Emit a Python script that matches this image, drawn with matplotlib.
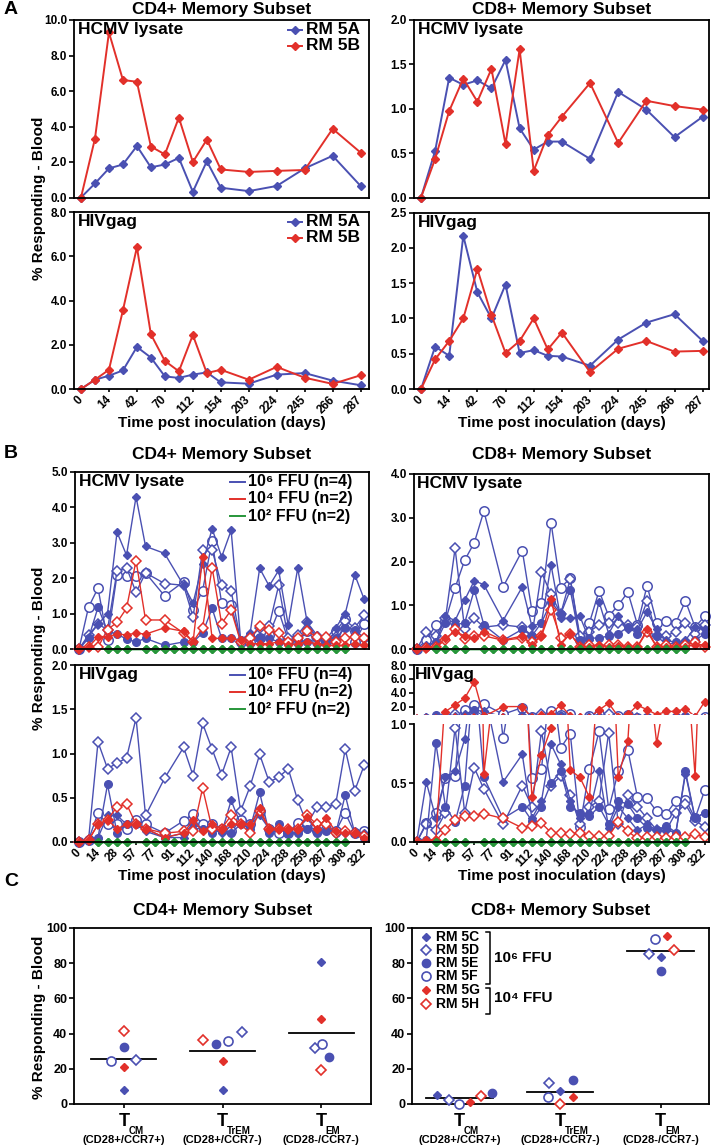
import numpy as np
import matplotlib
matplotlib.use('Agg')
import matplotlib.pyplot as plt
from matplotlib.lines import Line2D

plt.rcParams['font.family'] = ['Liberation Sans', 'DejaVu Sans']
plt.rcParams['font.weight'] = 'bold'
plt.rcParams['mathtext.fontset'] = 'custom'
plt.rcParams['mathtext.rm'] = 'Liberation Sans:bold'
plt.rcParams['mathtext.bf'] = 'Liberation Sans:bold'
plt.rcParams['mathtext.it'] = 'Liberation Sans:bold'
plt.rcParams['axes.linewidth'] = 1.3

nan = np.nan

# ---------------- Panel A data ----------------
a_days = ['0', '7', '14', '28', '42', '56', '70', '91', '112', '133', '154', '175', '203', '210',
          '224', '231', '245', '252', '266', '273', '287']
a_cd4_hcmv_5A = [0, 0.79, 1.64, 1.86, 2.9, 1.7, 1.86, 2.23, 0.32, 2.04, 0.55, nan, 0.36, nan, 0.65, nan, 1.64, nan, 2.35, nan, 0.65]
a_cd4_hcmv_5B = [0, 3.32, 9.3, 6.62, 6.52, 2.87, 2.43, 4.5, 2.0, 3.26, 1.58, nan, 1.44, nan, 1.5, nan, 1.55, nan, 3.87, nan, 2.53]
a_cd8_hcmv_5A = [0, 0.525, 1.35, 1.27, 1.32, 1.23, 1.55, 0.78, 0.54, 0.63, 0.63, nan, 0.435, nan, 1.19, nan, 0.99, nan, 0.68, nan, 0.91]
a_cd8_hcmv_5B = [0, 0.435, 0.975, 1.34, 1.08, 1.45, 0.60, 1.67, 0.30, 0.705, 0.91, nan, 1.29, nan, 0.615, nan, 1.09, nan, 1.03, nan, 0.99]
a_cd4_hiv_5A = [0, 0.42, 0.6, 0.84, 1.9, 1.42, 0.57, 0.5, 0.65, 0.75, 0.3, nan, 0.24, nan, 0.65, nan, 0.72, nan, 0.38, nan, 0.17]
a_cd4_hiv_5B = [0, 0.42, 0.87, 3.56, 6.41, 2.47, 1.27, 0.8, 2.44, 0.72, 0.87, nan, 0.42, nan, 1.0, nan, 0.51, nan, 0.23, nan, 0.62]
a_cd8_hiv_5A = [0, 0.6, 0.47, 2.17, 1.37, 1.0, 1.48, 0.51, 0.55, 0.47, 0.46, nan, 0.33, nan, 0.7, nan, 0.94, nan, 1.06, nan, 0.68]
a_cd8_hiv_5B = [0, 0.42, 0.68, 1.0, 1.7, 1.05, 0.51, 0.68, 1.0, 0.56, 0.8, nan, 0.24, nan, 0.57, nan, 0.68, nan, 0.53, nan, 0.54]

# ---------------- Panel B data ----------------
b_days = ['0', '7', '14', '21', '28', '42', '57', '70', '77', '84', '91', '98', '112', '126', '140', '154',
          '168', '189', '210', '217', '224', '231', '238', '245', '259', '273', '287', '294', '308', '315', '322']

b_cd4_hcmv_5C = [0, 0.35, 0.7, 1.0, 3.3, 2.65, 4.3, 2.9, nan, 2.7, nan, 1.8, 1.3, 2.4, 3.4, 2.6, 3.35, 0.25, 0.45, 2.28, 1.78, 2.22, 0.68, 2.28, 0.75, 0.4, 0.3, 0.6, 1.0, 2.1, 1.4]
b_cd4_hcmv_5D = [0, 0.4, 0.7, 0.55, 2.2, 2.3, 1.6, 2.15, nan, 1.85, nan, 1.8, 0.9, 2.8, 2.8, 1.8, 1.65, 0.2, 0.3, 0.6, 0.65, 1.8, 0.3, 0.4, 0.75, 0.3, 0.25, 0.35, 0.8, 0.6, 0.95]
b_cd4_hcmv_5E = [0, 0.3, 1.18, 0.5, 0.42, 0.28, 0.2, 0.3, nan, 0.1, nan, 0.2, 0.2, 0.45, 1.15, 0.3, 0.3, 0.25, 0.4, 0.3, 0.3, 0.2, 0.2, 0.25, 0.2, 0.3, 0.2, 0.3, 0.6, 0.55, 0.3]
b_cd4_hcmv_5F = [0, 1.18, 1.72, 0.25, 2.1, 2.05, 2.05, 2.15, nan, 1.5, nan, 1.9, 1.1, 1.65, 3.05, 1.3, 1.25, 0.2, 0.2, 0.3, 0.4, 1.08, 0.25, 0.2, 0.5, 0.2, 0.2, 0.5, 0.85, 0.2, 0.7]
b_cd4_hcmv_5G = [0, 0.05, 0.35, 0.35, 0.42, 0.4, 0.45, 0.42, nan, 0.6, nan, 0.5, 0.2, 2.6, 0.3, 0.3, 0.3, 0.25, 0.15, 0.15, 0.15, 0.2, 0.1, 0.15, 0.2, 0.15, 0.1, 0.1, 0.1, 0.15, 0.1]
b_cd4_hcmv_5H = [0, 0.05, 0.05, 0.55, 0.75, 1.15, 2.5, 0.82, nan, 0.82, nan, 0.45, 0.2, 0.6, 2.3, 0.72, 1.1, 0.2, 0.3, 0.65, 0.55, 0.45, 0.2, 0.3, 0.5, 0.35, 0.35, 0.2, 0.3, 0.35, 0.3]
b_cd4_hcmv_g1 = [nan, nan, nan, 0, 0, 0, nan, 0, 0, 0, 0, 0, 0, 0, 0, 0, 0, 0, 0, 0, 0, 0, 0, 0, 0, 0, 0, 0, 0, nan, nan]
b_cd4_hcmv_g2 = [nan, nan, nan, 0, 0, 0, nan, 0, 0, 0, 0, 0, 0, 0, 0, 0, 0, 0, 0, 0, 0, 0, 0, 0, 0, 0, 0, 0, 0, nan, nan]

b_cd4_hiv_5C = [0, 0.02, 0.05, 0.3, 0.3, 0.2, 0.2, 0.12, nan, 0.05, nan, 0.05, 0.15, 0.15, 0.15, 0.1, 0.47, 0.2, 0.2, 0.3, 0.15, 0.15, 0.12, 0.1, 0.15, 0.12, 0.15, 0.1, 0.1, 0.12, 0.1]
b_cd4_hiv_5D = [0, 0.02, 1.13, 0.83, 0.89, 0.95, 1.4, 0.3, nan, 0.72, nan, 1.07, 0.75, 1.34, 1.05, 0.76, 1.07, 0.35, 0.63, 0.99, 0.68, 0.73, 0.83, 0.47, 0.2, 0.39, 0.39, 0.43, 1.05, 0.58, 0.87]
b_cd4_hiv_5E = [0, 0.02, 0.05, 0.65, 0.1, 0.2, 0.2, 0.15, nan, 0.05, nan, 0.1, 0.2, 0.15, 0.1, 0.15, 0.1, 0.2, 0.15, 0.56, 0.1, 0.2, 0.1, 0.1, 0.15, 0.1, 0.12, 0.1, 0.53, 0.1, 0.05]
b_cd4_hiv_5F = [0, 0.02, 0.33, 0.2, 0.2, 0.15, 0.25, 0.2, nan, 0.1, nan, 0.24, 0.32, 0.2, 0.2, 0.15, 0.12, 0.25, 0.2, 0.35, 0.15, 0.1, 0.1, 0.22, 0.2, 0.12, 0.15, 0.12, 0.33, 0.1, 0.12]
b_cd4_hiv_5G = [0, 0.02, 0.2, 0.25, 0.15, 0.2, 0.2, 0.15, nan, 0.05, nan, 0.1, 0.25, 0.12, 0.2, 0.15, 0.2, 0.2, 0.2, 0.38, 0.15, 0.15, 0.15, 0.15, 0.28, 0.15, 0.27, 0.12, 0.1, 0.1, 0.05]
b_cd4_hiv_5H = [0, 0.02, 0.2, 0.25, 0.4, 0.43, 0.2, 0.15, nan, 0.1, nan, 0.12, 0.12, 0.61, 0.15, 0.15, 0.3, 0.2, 0.1, 0.35, 0.15, 0.15, 0.15, 0.15, 0.3, 0.2, 0.2, 0.1, 0.12, 0.1, 0.07]
b_cd4_hiv_g1 = [nan, nan, 0, 0, 0, 0, nan, 0, 0, 0, 0, 0, 0, 0, 0, 0, 0, 0, 0, 0, 0, 0, 0, 0, 0, 0, 0, 0, 0, nan, nan]
b_cd4_hiv_g2 = [nan, nan, 0, 0, 0, 0, nan, 0, 0, 0, 0, 0, 0, 0, 0, 0, 0, 0, 0, 0, 0, 0, 0, 0, 0, 0, 0, 0, 0, nan, nan]

b_cd8_hcmv_5C = [0, 0.1, 0.15, 0.75, 0.65, 1.12, 1.56, 1.47, nan, 0.65, nan, 1.42, 0.52, 0.6, 1.92, 0.7, 0.7, 0.75, 0.2, 1.08, 0.35, 0.75, 0.45, 0.45, 0.85, 0.45, 0.2, 0.15, 0.2, 0.5, 0.45]
b_cd8_hcmv_5D = [0, 0.38, 0.3, 0.7, 2.3, 0.45, 0.7, 0.5, nan, 0.55, nan, 0.5, 0.3, 1.75, 1.25, 0.8, 1.6, 0.3, 0.4, 0.55, 0.6, 0.6, 0.55, 0.5, 1.1, 0.3, 0.3, 0.4, 0.6, 0.35, 0.55]
b_cd8_hcmv_5E = [0, 0.05, 0.15, 0.6, 0.55, 0.6, 1.35, 0.55, nan, 0.2, nan, 0.45, 0.3, 0.6, 1.08, 0.8, 1.35, 0.2, 0.25, 0.25, 0.3, 0.35, 0.5, 0.35, 0.4, 0.3, 0.1, 0.15, 0.15, 0.2, 0.35]
b_cd8_hcmv_5F = [0, 0.2, 0.55, 0.65, 1.4, 2.03, 2.43, 3.15, nan, 1.42, nan, 2.25, 0.88, 1.05, 2.88, 1.4, 1.62, 0.2, 0.6, 1.33, 0.75, 1.0, 1.3, 0.55, 1.45, 0.6, 0.65, 0.6, 1.1, 0.5, 0.75]
b_cd8_hcmv_5G = [0, 0.02, 0.05, 0.25, 0.4, 0.3, 0.25, 0.4, nan, 0.2, nan, 0.3, 0.1, 0.3, 1.15, 0.1, 0.35, 0.05, 0.05, 0.1, 0.05, 0.08, 0.05, 0.05, 0.45, 0.05, 0.05, 0.05, 0.05, 0.1, 0.1]
b_cd8_hcmv_5H = [0, 0.02, 0.05, 0.2, 0.45, 0.22, 0.3, 0.3, nan, 0.2, nan, 0.25, 0.15, 0.3, 0.9, 0.25, 0.35, 0.05, 0.1, 0.05, 0.1, 0.1, 0.05, 0.05, 0.4, 0.05, 0.1, 0.05, 0.1, 0.15, 0.05]
b_cd8_hcmv_g1 = [nan, nan, 0, 0, 0, 0, nan, 0, 0, 0, 0, 0, 0, 0, 0, 0, 0, 0, 0, 0, 0, 0, 0, 0, 0, 0, 0, 0, 0, nan, nan]
b_cd8_hcmv_g2 = [nan, nan, 0, 0, 0, 0, nan, 0, 0, 0, 0, 0, 0, 0, 0, 0, 0, 0, 0, 0, 0, 0, 0, 0, 0, 0, 0, 0, 0, nan, nan]

b_cd8_hiv_5C = [0, 0.51, 0.2, 0.55, 0.6, 0.875, 1.5, 1.3, nan, 0.51, nan, 0.745, 0.2, 0.35, 0.83, 0.66, 0.35, 0.2, 0.25, 0.6, 0.12, 0.3, 0.2, 0.1, 0.15, 0.1, 0.1, 0.08, 0.58, 0.2, 0.25]
b_cd8_hiv_5D = [0, 0.15, 0.1, 0.25, 0.97, 0.25, 0.63, 0.45, nan, 0.15, nan, 0.48, 0.3, 0.94, 0.48, 0.56, 0.4, 0.15, 0.3, 0.35, 0.93, 0.15, 0.4, 0.3, 0.2, 0.1, 0.1, 0.25, 0.32, 0.18, 0.13]
b_cd8_hiv_5E = [0, 0.02, 0.84, 0.3, 0.17, 0.48, 1.5, 0.55, nan, 0.2, nan, 0.3, 0.18, 0.3, 0.5, 0.6, 0.3, 0.25, 0.22, 0.3, 0.15, 0.35, 0.32, 0.2, 0.12, 0.1, 0.14, 0.08, 0.6, 0.2, 0.25]
b_cd8_hiv_5F = [0, 0.16, 0.25, 0.54, 0.56, 1.52, 2.25, 2.35, nan, 0.88, nan, 1.86, 0.54, 0.62, 1.43, 0.8, 0.92, 0.13, 0.62, 0.94, 0.28, 0.6, 0.78, 0.38, 0.37, 0.26, 0.24, 0.35, 0.36, 0.2, 0.44]
b_cd8_hiv_5G = [0, 0.02, 0.02, 1.28, 2.25, 3.2, 5.6, 0.58, nan, 2.0, nan, 2.0, 0.38, 0.74, 0.97, 2.25, 0.61, 0.55, 0.38, 1.52, 2.48, 0.55, 0.86, 2.2, 1.55, 0.84, 1.3, 1.3, 1.7, 0.56, 2.7]
b_cd8_hiv_5H = [0, 0.0, 0.01, 0.1, 0.19, 0.22, 0.22, 0.24, nan, 0.2, nan, 0.12, 0.14, 0.16, 0.08, 0.08, 0.07, 0.08, 0.05, 0.05, 0.05, 0.17, 0.09, 0.03, 0.04, 0.04, 0.03, 0.04, 0.04, 0.07, 0.04]
b_cd8_hiv_g1 = [nan, nan, 0, 0, 0, 0, nan, 0, 0, 0, 0, 0, 0, 0, 0, 0, 0, 0, 0, 0, 0, 0, 0, 0, 0, 0, 0, 0, 0, nan, nan]
b_cd8_hiv_g2 = [nan, nan, 0, 0, 0, 0, nan, 0, 0, 0, 0, 0, 0, 0, 0, 0, 0, 0, 0, 0, 0, 0, 0, 0, 0, 0, 0, 0, 0, nan, nan]

# ---------------- Panel C data ----------------
c_subsets = ['CM', 'TrEM', 'EM']
c_phenos = ['(CD28+/CCR7+)', '(CD28+/CCR7-)', '(CD28-/CCR7-)']
c_animals = ['RM 5C', 'RM 5D', 'RM 5E', 'RM 5F', 'RM 5G', 'RM 5H']
c_cd4_5C = [8.1, 8.1, 80.8]
c_cd4_5D = [25.1, 40.8, 31.7]
c_cd4_5E = [32.6, 34.2, 26.6]
c_cd4_5F = [24.2, 36.0, 34.2]
c_cd4_5G = [21.3, 24.7, 48.1]
c_cd4_5H = [41.7, 36.4, 19.1]
c_cd8_5C = [5.3, 7.2, 83.5]
c_cd8_5D = [2.1, 11.9, 85.4]
c_cd8_5E = [6.3, 13.8, 75.4]
c_cd8_5F = [0.2, 4.0, 93.7]
c_cd8_5G = [0.95, 4.0, 95.3]
c_cd8_5H = [4.4, 0.2, 87.7]

# ---------------- styling ----------------
BLUE = '#4A50B2'
RED = '#E2302A'
GREEN = '#27963A'
W, H = 711, 1147
fig = plt.figure(figsize=(W / 100, H / 100), dpi=100)


def rect(l, t, r, b):
    return [l / W, 1 - b / H, (r - l) / W, (b - t) / H]


def ftext(x, y, s, size, **kw):
    fig.text(x / W, 1 - y / H, s, fontsize=size, fontweight='bold', **kw)


def fline(xs, ys, **kw):
    fig.add_artist(Line2D([x / W for x in xs], [1 - y / H for y in ys],
                          transform=fig.transFigure, **kw))


STY = {
    '5A': dict(color=BLUE, marker='D', ms=4.2, mfc=BLUE, mec=BLUE),
    '5B': dict(color=RED, marker='D', ms=4.2, mfc=RED, mec=RED),
    '5C': dict(color=BLUE, marker='D', ms=4.0, mfc=BLUE, mec=BLUE),
    '5D': dict(color=BLUE, marker='D', ms=4.8, mfc='white', mec=BLUE, mew=1.1),
    '5E': dict(color=BLUE, marker='o', ms=5.5, mfc=BLUE, mec=BLUE),
    '5F': dict(color=BLUE, marker='o', ms=6.8, mfc='white', mec=BLUE, mew=1.1),
    '5G': dict(color=RED, marker='D', ms=4.0, mfc=RED, mec=RED),
    '5H': dict(color=RED, marker='D', ms=4.8, mfc='white', mec=RED, mew=1.1),
    'G': dict(color=GREEN, marker='D', ms=4.4, mfc=GREEN, mec=GREEN),
}


def draw(ax, vals, key, lw, clip=False):
    y = np.array(vals, dtype=float)
    x = np.arange(len(y))
    m = np.isfinite(y)
    ax.plot(x[m], y[m], lw=lw, clip_on=clip, **STY[key])


def style_axes(ax, yticks, fmt='{:.1f}', labelsize=8.5):
    ax.set_yticks(yticks)
    ax.set_yticklabels([fmt.format(v) for v in yticks])
    ax.tick_params(axis='y', direction='out', length=3.5, width=1.2, pad=1.5, labelsize=labelsize)
    for s in ax.spines.values():
        s.set_linewidth(1.3)


def xcat(ax, labels, show):
    n = len(labels)
    ax.set_xticks(np.arange(0, n, 2))
    if show:
        ax.set_xticklabels(labels[::2], rotation=45, ha='right', va='center',
                           rotation_mode='anchor', fontsize=8.5)
        ax.tick_params(axis='x', direction='out', length=2.5, width=1.2, pad=4)
    else:
        ax.set_xticklabels([])
        ax.tick_params(axis='x', length=0)


# ================= Panel A =================
a_axes = [
    (rect(74, 20, 369, 197.5), a_cd4_hcmv_5A, a_cd4_hcmv_5B, (0, 10), [0, 2, 4, 6, 8, 10], 'HCMV lysate', True, False, (-0.5, 20.6)),
    (rect(74, 212, 369, 389), a_cd4_hiv_5A, a_cd4_hiv_5B, (0, 8), [0, 2, 4, 6, 8], 'HIVgag', True, True, (-0.5, 20.6)),
    (rect(414, 20, 709, 197.5), a_cd8_hcmv_5A, a_cd8_hcmv_5B, (0, 2), [0, 0.5, 1.0, 1.5, 2.0], 'HCMV lysate', False, False, (-0.5, 20.45)),
    (rect(414, 212.5, 709, 389), a_cd8_hiv_5A, a_cd8_hiv_5B, (0, 2.5), [0, 0.5, 1.0, 1.5, 2.0, 2.5], 'HIVgag', False, True, (-0.5, 20.45)),
]
for r, s5a, s5b, ylim, yt, lab, leg, showx, xl in a_axes:
    ax = fig.add_axes(r)
    draw(ax, s5a, '5A', 1.4)
    draw(ax, s5b, '5B', 1.4)
    ax.set_ylim(*ylim)
    ax.set_xlim(*xl)
    style_axes(ax, yt)
    xcat(ax, a_days, showx)
    ax.text(0.012, 0.945, lab, transform=ax.transAxes, fontsize=12.5, fontweight='bold', ha='left', va='center')
    if leg:
        for k, (key, name) in enumerate([('5A', 'RM 5A'), ('5B', 'RM 5B')]):
            yy = 0.945 - k * 0.09
            ax.plot([0.725, 0.773], [yy, yy], transform=ax.transAxes, lw=1.4, color=STY[key]['color'], clip_on=False)
            ax.plot([0.749], [yy], transform=ax.transAxes, clip_on=False, ls='none',
                    **{k2: v for k2, v in STY[key].items() if k2 != 'color'}, color=STY[key]['color'])
            ax.text(0.787, yy, name, transform=ax.transAxes, fontsize=12.5, fontweight='bold', ha='left', va='center')

# ================= Panel B =================
LEG_B = [('10⁶ FFU (n=4)', BLUE), ('10⁴ FFU (n=2)', RED), ('10² FFU (n=2)', GREEN)]


def draw_b(ax, sets, lw=1.0, clip=False):
    s5c, s5d, s5e, s5f, s5g, s5h, g1, g2 = sets
    draw(ax, s5f, '5F', lw, clip)
    draw(ax, s5d, '5D', lw, clip)
    draw(ax, s5e, '5E', lw, clip)
    draw(ax, s5c, '5C', lw, clip)
    draw(ax, s5h, '5H', lw, clip)
    draw(ax, s5g, '5G', lw, clip)
    draw(ax, g1, 'G', lw, clip)
    draw(ax, g2, 'G', lw, clip)


def legend_b(ax):
    for k, (name, col) in enumerate(LEG_B):
        yy = 0.945 - k * 0.097
        ax.plot([0.527, 0.578], [yy, yy], transform=ax.transAxes, lw=1.4, color=col, clip_on=False)
        ax.text(0.588, yy, name, transform=ax.transAxes, fontsize=11.5, fontweight='bold', ha='left', va='center')


b_cd4_sets = [
    (rect(75, 472, 369, 649), (b_cd4_hcmv_5C, b_cd4_hcmv_5D, b_cd4_hcmv_5E, b_cd4_hcmv_5F, b_cd4_hcmv_5G, b_cd4_hcmv_5H, b_cd4_hcmv_g1, b_cd4_hcmv_g2),
     (0, 5), [0, 1, 2, 3, 4, 5], 'HCMV lysate', False),
    (rect(75, 665, 369, 842), (b_cd4_hiv_5C, b_cd4_hiv_5D, b_cd4_hiv_5E, b_cd4_hiv_5F, b_cd4_hiv_5G, b_cd4_hiv_5H, b_cd4_hiv_g1, b_cd4_hiv_g2),
     (0, 2), [0, 0.5, 1.0, 1.5, 2.0], 'HIVgag', True),
]
for r, sets, ylim, yt, lab, showx in b_cd4_sets:
    ax = fig.add_axes(r)
    draw_b(ax, sets)
    ax.set_ylim(*ylim)
    ax.set_xlim(-0.42, 30.5)
    style_axes(ax, yt)
    xcat(ax, b_days, showx)
    ax.text(0.012, 0.945, lab, transform=ax.transAxes, fontsize=12.5, fontweight='bold', ha='left', va='center')
    legend_b(ax)

# CD8 HCMV
ax = fig.add_axes(rect(414, 474, 709, 649))
draw_b(ax, (b_cd8_hcmv_5C, b_cd8_hcmv_5D, b_cd8_hcmv_5E, b_cd8_hcmv_5F, b_cd8_hcmv_5G, b_cd8_hcmv_5H, b_cd8_hcmv_g1, b_cd8_hcmv_g2))
ax.set_ylim(0, 4)
ax.set_xlim(-0.28, 30.45)
style_axes(ax, [0, 1, 2, 3, 4])
xcat(ax, b_days, False)
ax.text(0.01, 0.945, 'HCMV lysate', transform=ax.transAxes, fontsize=12.5, fontweight='bold', ha='left', va='center')

# CD8 HIVgag (broken axis)
hiv_sets = (b_cd8_hiv_5C, b_cd8_hiv_5D, b_cd8_hiv_5E, b_cd8_hiv_5F, b_cd8_hiv_5G, b_cd8_hiv_5H, b_cd8_hiv_g1, b_cd8_hiv_g2)
axu = fig.add_axes(rect(414, 665, 709, 713.5))
axl = fig.add_axes(rect(414, 724.3, 709, 842))
draw_b(axu, hiv_sets, clip=True)
s5c, s5d, s5e, s5f, s5g, s5h, g1, g2 = hiv_sets
for vals, key in [(s5f, '5F'), (s5d, '5D'), (s5e, '5E'), (s5c, '5C'), (s5h, '5H'), (s5g, '5G')]:
    draw(axl, vals, key, 1.0, clip=True)
draw(axl, g1, 'G', 1.0, clip=False)
draw(axl, g2, 'G', 1.0, clip=False)
for a in (axu, axl):
    a.set_xlim(-0.28, 30.45)
axu.set_ylim(1.0, 8.0)
axl.set_ylim(0, 1.0)
style_axes(axu, [2, 4, 6, 8])
style_axes(axl, [0, 0.5, 1.0])
xcat(axu, b_days, False)
xcat(axl, b_days, True)
axu.spines['bottom'].set_visible(False)
axu.spines['right'].set_visible(False)
axl.spines['top'].set_visible(False)
axl.spines['right'].set_visible(False)
fline([709, 709], [665, 842], color='black', lw=1.3)
ftext(415, 675, 'HIVgag', 12.5, ha='left', va='center')

# ================= Panel C =================
C_STY = {
    'RM 5C': dict(marker='D', ms=4.2, mfc=BLUE, mec=BLUE),
    'RM 5D': dict(marker='D', ms=5.0, mfc='white', mec=BLUE, mew=1.2),
    'RM 5E': dict(marker='o', ms=6.0, mfc=BLUE, mec=BLUE),
    'RM 5F': dict(marker='o', ms=6.5, mfc='white', mec=BLUE, mew=1.2),
    'RM 5G': dict(marker='D', ms=4.2, mfc=RED, mec=RED),
    'RM 5H': dict(marker='D', ms=5.0, mfc='white', mec=RED, mew=1.2),
}
cd4_off = [[0, 0, 0], [0.128, 0.195, -0.067], [0, -0.067, 0.077], [-0.125, 0.06, 0.01], [0, 0, 0], [0, -0.195, 0]]
cd8_off = [[-0.22, 0, 0], [-0.105, -0.105, -0.115], [0.32, 0.125, 0], [0, -0.115, -0.056], [0.11, 0.125, 0.066], [0.215, 0, 0.132]]

c_panels = [
    (rect(74, 928, 371, 1104), [c_cd4_5C, c_cd4_5D, c_cd4_5E, c_cd4_5F, c_cd4_5G, c_cd4_5H], cd4_off, (-0.505, 2.505)),
    (rect(412, 928, 709, 1104), [c_cd8_5C, c_cd8_5D, c_cd8_5E, c_cd8_5F, c_cd8_5G, c_cd8_5H], cd8_off, (-0.47, 2.48)),
]
c_axes = []
for r, vals, offs, xl in c_panels:
    ax = fig.add_axes(r)
    c_axes.append(ax)
    arr = np.array(vals, dtype=float)
    means = arr.mean(axis=0)
    for i in range(3):
        ax.plot([i - 0.33, i + 0.33], [means[i], means[i]], color='black', lw=1.3, zorder=1)
    for a_i, name in enumerate(c_animals):
        xs = np.arange(3) + np.array(offs[a_i])
        ax.plot(xs, arr[a_i], ls='none', clip_on=False, zorder=3, **C_STY[name])
    ax.set_xlim(*xl)
    ax.set_ylim(0, 100)
    style_axes(ax, [0, 20, 40, 60, 80, 100], fmt='{:.0f}', labelsize=9)
    ax.set_xticks([0, 1, 2])
    ax.set_xticklabels([])
    ax.tick_params(axis='x', direction='out', length=3, width=1.2)
    for i in range(3):
        ax.annotate('T', xy=(i, 0), xycoords=('data', 'axes fraction'), xytext=(0, -17.5),
                    textcoords='offset pixels', fontsize=13, fontweight='bold', ha='center', va='center')
        ax.annotate(c_subsets[i], xy=(i, 0), xycoords=('data', 'axes fraction'), xytext=(4.5, -26.5),
                    textcoords='offset pixels', fontsize=7, fontweight='bold', ha='left', va='center')
        ax.annotate(c_phenos[i], xy=(i, 0), xycoords=('data', 'axes fraction'), xytext=(0, -36),
                    textcoords='offset pixels', fontsize=8, fontweight='bold', ha='center', va='center')

# legend in CD8 C
ax8 = c_axes[1]
rows = [937.3, 950.3, 963.3, 976.3, 990, 1003.5]
for name, yy in zip(c_animals, rows):
    fy = 1 - (yy - 928) / 176
    ax8.plot([(425.7 - 412) / 297], [fy], transform=ax8.transAxes, ls='none', clip_on=False, **C_STY[name])
    ax8.text((436.5 - 412) / 297, fy, name, transform=ax8.transAxes, fontsize=10, fontweight='bold', ha='left', va='center')
fline([486, 490, 490, 486], [931.5, 931.5, 984, 984], color='black', lw=1.1)
fline([486, 490, 490, 486], [987.5, 987.5, 1013.5, 1013.5], color='black', lw=1.1)
ftext(494, 958, '10⁶ FFU', 11, ha='left', va='center')
ftext(494, 998.5, '10⁴ FFU', 11, ha='left', va='center')

# ================= Figure texts =================
for y in (9.5, 455):
    ftext(221.5, y, 'CD4+ Memory Subset', 12.5, ha='center', va='center')
    ftext(561.5, y, 'CD8+ Memory Subset', 12.5, ha='center', va='center')
ftext(222.5, 910, 'CD4+ Memory Subset', 12.5, ha='center', va='center')
ftext(560.5, 910, 'CD8+ Memory Subset', 12.5, ha='center', va='center')
for y in (422.5, 876):
    ftext(221.5, y, 'Time post inoculation (days)', 11, ha='center', va='center')
    ftext(561.5, y, 'Time post inoculation (days)', 11, ha='center', va='center')
for y in (198, 648, 1017):
    ftext(39, y, '% Responding - Blood', 11, ha='center', va='center', rotation=90)
ftext(11, 9, 'A', 14, ha='center', va='center')
ftext(11, 453, 'B', 14, ha='center', va='center')
ftext(11, 881, 'C', 14, ha='center', va='center')

fig.savefig('out.png', dpi=100)
